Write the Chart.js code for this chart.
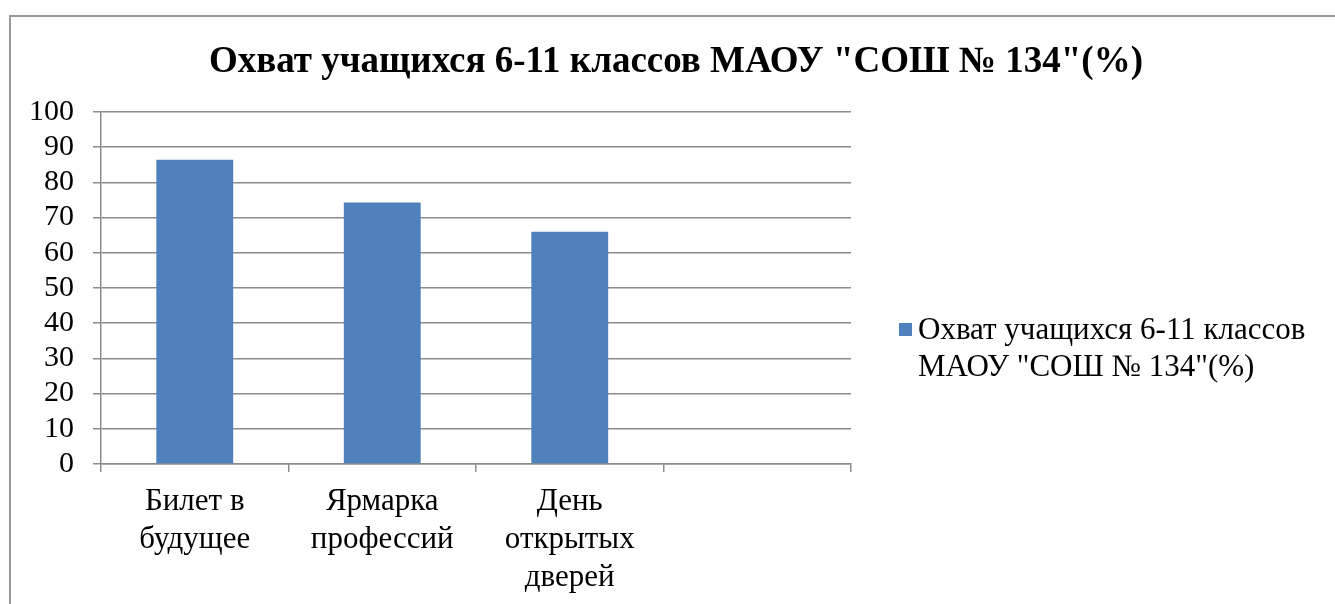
<!DOCTYPE html>
<html>
<head>
<meta charset="utf-8">
<script src="https://cdn.jsdelivr.net/npm/chart.js@4/dist/chart.umd.min.js"></script>
<style>
  html, body { margin: 0; padding: 0; background: #fff; }
  #wrap { width: 1335px; height: 604px; }
</style>
</head>
<body>
<div id="wrap"><canvas id="chart" width="1335" height="604"></canvas></div>
<script>
const chartTitle = 'Охват учащихся 6-11 классов МАОУ "СОШ № 134"(%)';
const categories = [['Билет в', 'будущее'], ['Ярмарка', 'профессий'], ['День', 'открытых', 'дверей'], ''];
const coverage = [86.4, 74.3, 66];
const legendLines = ['Охват учащихся 6-11 классов', 'МАОУ "СОШ № 134"(%)'];

const FONT = "'Liberation Serif', 'Times New Roman', serif";
const BAR = '#4f81bd';
const GRID = '#8c8c8c';

// outer frame like the office chart border (only top and left visible)
const framePlugin = {
  id: 'frame',
  beforeDraw(chart) {
    const c = chart.ctx;
    c.save();
    c.strokeStyle = '#9a9a9a';
    c.lineWidth = 2;
    c.beginPath();
    c.moveTo(10, 604);
    c.lineTo(10, 16);
    c.lineTo(1335, 16);
    c.stroke();
    c.restore();
  }
};

// title centred on the whole picture, not just the plot
const titlePlugin = {
  id: 'bigTitle',
  afterDraw(chart) {
    const c = chart.ctx;
    c.save();
    c.fillStyle = '#000';
    c.font = `bold 37px ${FONT}`;
    c.textAlign = 'center';
    c.textBaseline = 'middle';
    c.fillText(chartTitle, 676, 62);
    c.restore();
  }
};

// legend with wrapped text, drawn to the right of the plot
const sideLegend = {
  id: 'sideLegend',
  afterDraw(chart) {
    const c = chart.ctx;
    const ds = chart.data.datasets[0];
    c.save();
    c.fillStyle = ds.backgroundColor;
    c.fillRect(899, 323, 13, 13);
    c.fillStyle = '#000';
    c.font = `31px ${FONT}`;
    c.textBaseline = 'middle';
    c.textAlign = 'left';
    legendLines.forEach((line, i) => c.fillText(line, 918, 331 + i * 37));
    c.restore();
  }
};

new Chart(document.getElementById('chart'), {
  type: 'bar',
  data: {
    labels: categories,
    datasets: [{
      label: legendLines.join(' '),
      data: coverage,
      backgroundColor: BAR,
      borderWidth: 0,
      categoryPercentage: 0.82,
      barPercentage: 0.5,
    }]
  },
  options: {
    responsive: false,
    animation: false,
    layout: { padding: { left: 11, right: 484, top: 112, bottom: 0 } },
    plugins: {
      legend: { display: false },
      tooltip: { enabled: false },
      title: { display: false }
    },
    scales: {
      x: {
        grid: { offset: true, drawOnChartArea: false, color: GRID, lineWidth: 1.5, tickLength: 8 },
        border: { color: GRID, width: 1.5 },
        ticks: { color: '#000', font: { family: FONT, size: 31, lineHeight: 1.22 }, padding: 11, maxRotation: 0, autoSkip: false },
        afterFit: (s) => { s.height = 140; }
      },
      y: {
        min: 0,
        max: 100,
        ticks: { stepSize: 10, autoSkip: false, color: '#000', font: { family: FONT, size: 30 }, padding: 19 },
        grid: { color: GRID, lineWidth: 1.5, tickLength: 8 },
        border: { color: GRID, width: 1.5 },
        afterFit: (s) => { s.width = 90; }
      }
    }
  },
  plugins: [framePlugin, titlePlugin, sideLegend]
});
</script>
</body>
</html>
